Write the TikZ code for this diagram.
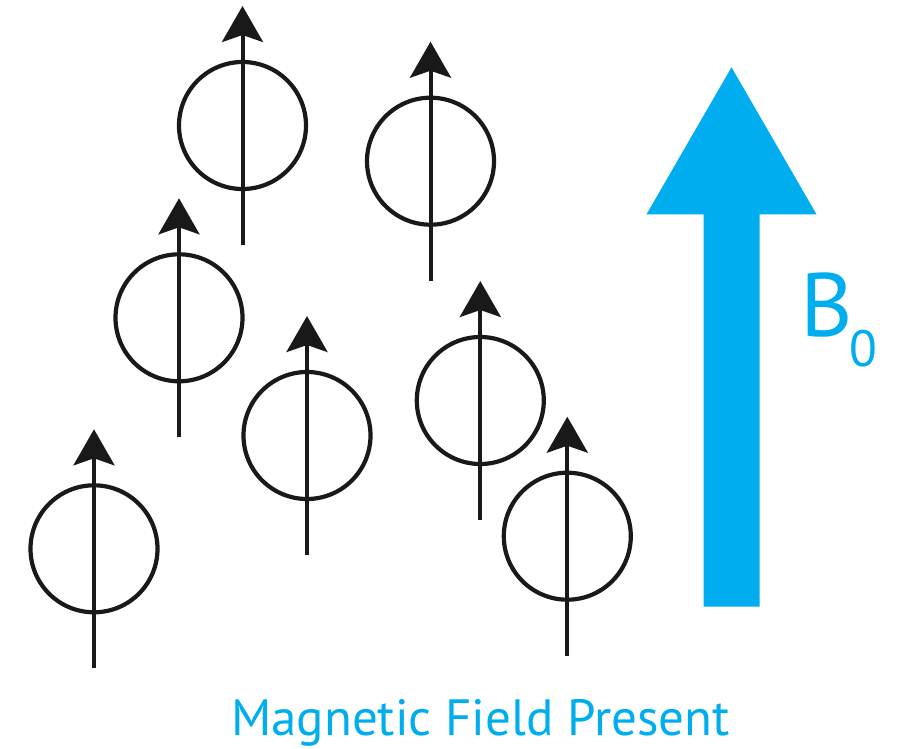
\documentclass[tikz,border=0pt]{standalone}
\usepackage{fontspec}
\setmainfont{PT Sans}
\usetikzlibrary{arrows.meta}
\definecolor{fieldblue}{RGB}{0,174,239}
\begin{document}
\begin{tikzpicture}[x=1pt,y=-1pt,
  spinring/.style={circle,draw=black!90,line width=4.2pt,minimum size=127pt,inner sep=0pt},
  spinaxis/.style={draw=black!90,line width=4pt,-{Stealth[length=36pt,width=41pt,inset=7pt]}},
  fieldtext/.style={text=fieldblue,inner sep=0pt}]
\useasboundingbox (0,0) rectangle (899,749);
% spins: name / x / tip y
\foreach \n/\x/\t in {s1/242.5/6, s2/430.5/41.7, s3/179/198.3, s4/307/316, s5/480.3/281, s6/94/429.3, s7/567.3/416.7}{
  \node[spinring] (\n) at (\x,\t+119.5) {};
  \coordinate (\n b) at (\x,\t+239);
  \coordinate (\n t) at (\x,\t);
  \draw[spinaxis] (\n b) -- (\n t);
}
% field arrow
\fill[fieldblue] (703.5,606.7) -- (703.5,214.3) -- (646.5,214.3) -- (731.5,67.3)
  -- (816.5,214.3) -- (759.5,214.3) -- (759.5,606.7) -- cycle;
\node[fieldtext,anchor=base west,font=\fontsize{90}{90}\selectfont] (B) at (800,336) {B};
\node[fieldtext,anchor=base west,font=\fontsize{51}{51}\selectfont] (B0) at (849,366.7) {0};
\node[fieldtext,anchor=base,font=\fontsize{51}{51}\selectfont] (label) at (480.5,735.7) {Magnetic Field Present};
\end{tikzpicture}
\end{document}
